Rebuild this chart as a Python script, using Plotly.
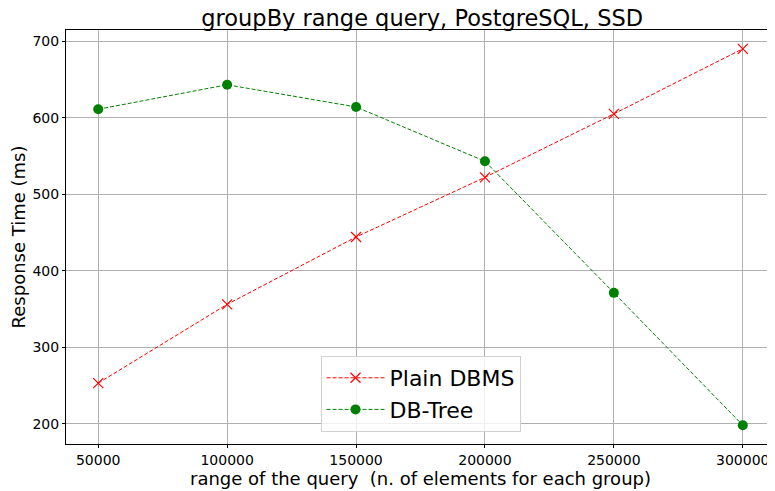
import plotly.graph_objects as go

# range of the query (n. of elements per group)
ranges = [50000, 100000, 150000, 200000, 250000, 300000]
plain_dbms = [253, 356, 444, 522, 605, 690]
db_tree = [611, 643, 614, 543, 371, 198]

FONT = "DejaVu Sans"

fig = go.Figure()

fig.add_trace(go.Scatter(
    x=ranges, y=plain_dbms, name="Plain DBMS",
    mode="lines+markers",
    line=dict(color="#ff0000", width=1, dash="4px,2px"),
    marker=dict(symbol="x-thin", size=10, line=dict(color="#ff0000", width=1.2)),
))
fig.add_trace(go.Scatter(
    x=ranges, y=db_tree, name="DB-Tree",
    mode="lines+markers",
    line=dict(color="#008000", width=1, dash="4px,2px"),
    marker=dict(symbol="circle", size=10, color="#008000"),
))

axis_common = dict(
    showgrid=True, gridcolor="#b0b0b0", gridwidth=1,
    showline=True, linecolor="black", linewidth=1, mirror=True,
    ticks="outside", ticklen=3, tickcolor="black",
    tickfont=dict(family=FONT, size=14, color="black"),
    zeroline=False,
)

fig.update_xaxes(
    range=[37500, 312500], tickvals=ranges, tickformat="d",
    title=dict(text="range of the query&nbsp; (n. of elements for each group)",
               font=dict(family=FONT, size=18, color="black"), standoff=0),
    **axis_common,
)
fig.update_yaxes(
    range=[173.4, 714.6], tick0=200, dtick=100,
    title=dict(text="Response Time (ms)",
               font=dict(family=FONT, size=18, color="black"), standoff=8),
    **axis_common,
)

# page body has an 8px margin, so the figure is sized to fit the window
fig.update_layout(
    width=767, height=483,
    paper_bgcolor="white", plot_bgcolor="white",
    margin=dict(l=58, r=0, t=22, b=47),
    font=dict(family=FONT, color="black"),
    title=dict(text="groupBy range query, PostgreSQL, SSD",
               font=dict(family=FONT, size=22.5, color="black"),
               x=0.54, xanchor="center", y=1 - 10 / 483, yanchor="middle"),
    legend=dict(
        x=0.5, xanchor="center", y=0.029, yanchor="bottom",
        font=dict(family=FONT, size=22, color="black"),
        bgcolor="rgba(255,255,255,0.8)", bordercolor="#d0d0d0", borderwidth=1,
        itemwidth=58,
    ),
)

fig.write_html("out.html")
